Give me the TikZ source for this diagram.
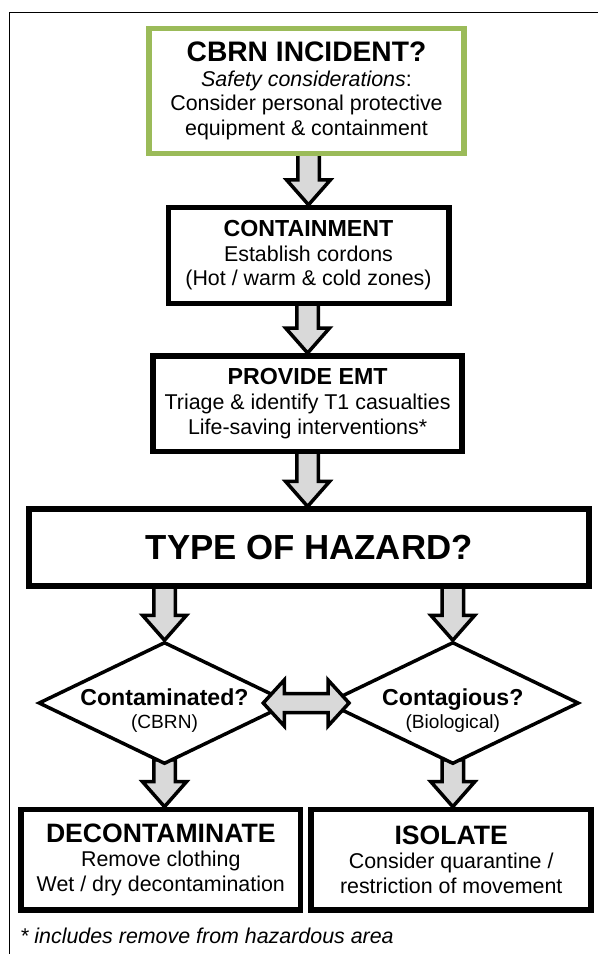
\documentclass[tikz,border=0pt]{standalone}
\usepackage{fontspec}
\setmainfont{Liberation Sans}
\usetikzlibrary{shapes,calc,backgrounds}
\definecolor{boxgreen}{RGB}{155,187,89}
\definecolor{arrowgray}{RGB}{217,217,217}

\begin{document}
\begin{tikzpicture}
  [x=1pt,y=-1pt,
  box/.style={rectangle,draw=black,fill=white,line width=5.5pt,align=center,inner sep=0pt,font=\fontsize{21.4}{24.7}\selectfont},
  greenbox/.style={box,draw=boxgreen},
  decision/.style={diamond,draw=black,fill=white,line width=3.5pt,inner sep=0pt,minimum width=252pt,minimum height=122pt},
  decisiontext/.style={align=center,inner sep=0pt,font=\fontsize{19.1}{23.5}\selectfont},
  fatdown/.style={draw=black,fill=arrowgray,line width=3.5pt,line join=miter,
    to path={let \p1=(\tikztostart), \p2=(\tikztotarget) in
      (\x2-10.75pt,\y1) -- (\x2-10.75pt,\y2+25pt) -- (\x2-22pt,\y2+25pt) -- (\x2,\y2)
      -- (\x2+22pt,\y2+25pt) -- (\x2+10.75pt,\y2+25pt) -- (\x2+10.75pt,\y1) -- cycle}},
  fatboth/.style={draw=black,fill=arrowgray,line width=3.5pt,line join=miter,
    to path={let \p1=(\tikztostart), \p2=(\tikztotarget) in
      (\x1,\y1) -- (\x1+21pt,\y1+23pt) -- (\x1+21pt,\y1+9.5pt) -- (\x2-21pt,\y1+9.5pt)
      -- (\x2-21pt,\y1+23pt) -- (\x2,\y1) -- (\x2-21pt,\y1-23pt) -- (\x2-21pt,\y1-9.5pt)
      -- (\x1+21pt,\y1-9.5pt) -- (\x1+21pt,\y1-23pt) -- cycle}}]
  \useasboundingbox (0,0) rectangle (598,954);

  \draw [line width=1.5pt] (9.3,954) |- (598,12.7);

  \node[greenbox,minimum width=314.7pt,minimum height=125pt] (incident) at (306.5,91)
    {{\fontsize{28.2}{24.7}\selectfont\bfseries CBRN INCIDENT?}\\\textit{Safety considerations}:\\Consider personal protective\\equipment \& containment};
  \node[box,minimum width=280.5pt,minimum height=95.7pt] (contain) at (308.5,255.4)
    {{\fontsize{23.2}{24.7}\selectfont\bfseries CONTAINMENT}\\Establish cordons\\(Hot / warm \& cold zones)};
  \node[box,minimum width=308.8pt,minimum height=95.7pt] (emt) at (307.6,403.6)
    {{\fontsize{23.2}{24.7}\selectfont\bfseries PROVIDE EMT}\\Triage \& identify T1 casualties\\Life-saving interventions*};
  \node[box,minimum width=560pt,minimum height=76.8pt] (hazard) at (309.2,547.6)
    {\fontsize{34.8}{36}\selectfont\bfseries TYPE OF HAZARD?};

  \node[decision] (contam) at (164.5,703) {};
  \node[decision] (contag) at (452.8,703) {};

  \node[box,minimum width=279.4pt,minimum height=100.5pt] (decon) at (160.8,859.7)
    {{\fontsize{26.6}{24.7}\selectfont\bfseries DECONTAMINATE}\\Remove clothing\\Wet / dry decontamination};
  \node[box,minimum width=280pt,minimum height=100.5pt] (isolate) at (451.2,859.7)
    {{\fontsize{26.6}{24.7}\selectfont\bfseries ISOLATE}\\Consider quarantine /\\restriction of movement};

  \node[anchor=west,inner sep=0pt,font=\fontsize{21.4}{24.7}\selectfont\itshape] (note) at (20,936)
    {* includes remove from hazardous area};

  \begin{scope}[on background layer]
    \draw [fatdown] ([yshift=5pt]incident.south) to (contain.north);
    \draw [fatdown] ([yshift=5pt]contain.south) to (emt.north);
    \draw [fatdown] ([yshift=5pt]emt.south) to (emt.south |- hazard.north);
    \draw [fatdown] ($(contam.north |- hazard.south)+(0,-5)$) to (contam.north);
    \draw [fatdown] ($(contag.north |- hazard.south)+(0,-5)$) to (contag.north);
    \draw [fatdown] ([yshift=6pt]contam.south) to (contam.south |- decon.north);
    \draw [fatdown] ([yshift=6pt]contag.south) to (contag.south |- isolate.north);
  \end{scope}

  \draw [fatboth] ([xshift=-29pt]contam.east) to ([xshift=24pt]contag.west);

  \node[decisiontext] (contamtext) at ($(contam)+(0,7.5)$)
    {{\fontsize{23.1}{23.5}\selectfont\bfseries Contaminated?}\\(CBRN)};
  \node[decisiontext] (contagtext) at ($(contag)+(0,7.5)$)
    {{\fontsize{23.1}{23.5}\selectfont\bfseries Contagious?}\\(Biological)};

\end{tikzpicture}
\end{document}
